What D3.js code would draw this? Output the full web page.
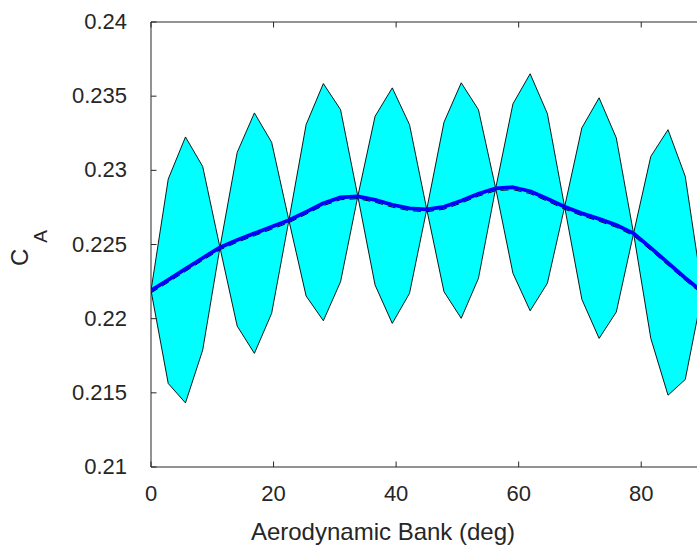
<!DOCTYPE html>
<html>
<head>
<meta charset="utf-8">
<script src="https://cdn.jsdelivr.net/npm/d3@7"></script>
<style>
body { margin: 0; background: #fff; }
svg { display: block; font-family: "Liberation Sans", Arial, sans-serif; }
</style>
</head>
<body>
<svg id="chart" width="697" height="548"></svg>
<script>
"use strict";

// bank angle samples (deg)
const bank = [0, 2.8125, 5.625, 8.4375, 11.25, 14.0625, 16.875, 19.6875, 22.5, 25.3125,
  28.125, 30.9375, 33.75, 36.5625, 39.375, 42.1875, 45, 47.8125, 50.625, 53.4375,
  56.25, 59.0625, 61.875, 64.6875, 67.5, 70.3125, 73.125, 75.9375, 78.75, 81.5625,
  84.375, 87.1875, 90];

// upper edge of the cyan band
const caUpper = [0.22190, 0.22941, 0.23225, 0.23026, 0.22480, 0.23121, 0.23387, 0.23189, 0.22663, 0.23308,
  0.23585, 0.23409, 0.22825, 0.23364, 0.23556, 0.23308, 0.22737, 0.23324, 0.23590, 0.23409,
  0.22879, 0.23448, 0.23651, 0.23382, 0.22754, 0.23286, 0.23489, 0.23218, 0.22575, 0.23094,
  0.23274, 0.22959, 0.22180];

// lower edge of the cyan band
const caLower = [0.22190, 0.21563, 0.21432, 0.21788, 0.22480, 0.21950, 0.21766, 0.22036, 0.22663, 0.22153,
  0.21986, 0.22249, 0.22825, 0.22227, 0.21968, 0.22171, 0.22737, 0.22182, 0.22002, 0.22272,
  0.22879, 0.22306, 0.22053, 0.22239, 0.22754, 0.22130, 0.21867, 0.22045, 0.22575, 0.21867,
  0.21484, 0.21590, 0.22180];

// mean (thick blue line)
const caMean = [0.22190, 0.22261, 0.22335, 0.22409, 0.22480, 0.22531, 0.22575, 0.22619, 0.22663, 0.22720,
  0.22778, 0.22818, 0.22825, 0.22801, 0.22768, 0.22744, 0.22737, 0.22754, 0.22795, 0.22842,
  0.22879, 0.22886, 0.22859, 0.22808, 0.22754, 0.22710, 0.22673, 0.22632, 0.22575, 0.22477,
  0.22376, 0.22274, 0.22180];

// nominal (black dashed line, sits just under the blue one)
const caNominal = [0.22174, 0.22245, 0.22319, 0.22393, 0.22464, 0.22515, 0.22559, 0.22603, 0.22647, 0.22704,
  0.22762, 0.22802, 0.22809, 0.22785, 0.22752, 0.22728, 0.22721, 0.22738, 0.22779, 0.22826,
  0.22863, 0.22870, 0.22843, 0.22792, 0.22738, 0.22694, 0.22657, 0.22616, 0.22559, 0.22461,
  0.22360, 0.22258, 0.22164];

const xTicks = [0, 20, 40, 60, 80];
const xTickLabels = ["0", "20", "40", "60", "80"];
const yTicks = [0.21, 0.215, 0.22, 0.225, 0.23, 0.235, 0.24];
const yTickLabels = ["0.21", "0.215", "0.22", "0.225", "0.23", "0.235", "0.24"];

const svg = d3.select("#chart");
const axisColor = "#262626";

const x = d3.scaleLinear().domain([0, 90]).range([151, 702.5]);
const y = d3.scaleLinear().domain([0.21, 0.24]).range([467, 22]);

svg.append("clipPath").attr("id", "plotClip")
  .append("rect")
  .attr("x", x.range()[0]).attr("y", y.range()[1])
  .attr("width", x.range()[1] - x.range()[0])
  .attr("height", y.range()[0] - y.range()[1]);

const plot = svg.append("g").attr("clip-path", "url(#plotClip)");

// band
const band = d3.area()
  .x((d, i) => x(bank[i]))
  .y0((d, i) => y(caLower[i]))
  .y1((d, i) => y(caUpper[i]));

plot.append("path")
  .datum(bank)
  .attr("d", band)
  .attr("fill", "#00ffff")
  .attr("stroke", "#000")
  .attr("stroke-width", 0.9)
  .attr("stroke-linejoin", "miter");

const line = vals => d3.line()
  .x((d, i) => x(bank[i]))
  .y((d, i) => y(vals[i]));

plot.append("path")
  .datum(bank)
  .attr("d", line(caNominal))
  .attr("fill", "none")
  .attr("stroke", "#000")
  .attr("stroke-width", 1)
  .attr("stroke-dasharray", "8,5");

plot.append("path")
  .datum(bank)
  .attr("d", line(caMean))
  .attr("fill", "none")
  .attr("stroke", "#0000ff")
  .attr("stroke-width", 3.8)
  .attr("stroke-linejoin", "round");

// axes (ticks point inward, like matlab)
const fmtX = d => xTickLabels[xTicks.indexOf(d)];
const fmtY = d => yTickLabels[yTicks.indexOf(d)];

const gx = svg.append("g")
  .attr("transform", `translate(0,${y.range()[0]})`)
  .call(d3.axisBottom(x).tickValues(xTicks).tickFormat(fmtX)
    .tickSizeInner(-5.5).tickSizeOuter(0).tickPadding(18).offset(0));

const gxTop = svg.append("g")
  .attr("transform", `translate(0,${y.range()[1]})`)
  .call(d3.axisTop(x).tickValues(xTicks).tickFormat("")
    .tickSizeInner(-5.5).tickSizeOuter(0).offset(0));

const gy = svg.append("g")
  .attr("transform", `translate(${x.range()[0]},0)`)
  .call(d3.axisLeft(y).tickValues(yTicks).tickFormat(fmtY)
    .tickSizeInner(-5.5).tickSizeOuter(0).tickPadding(24).offset(0));

[gx, gxTop, gy].forEach(g => {
  g.selectAll("path.domain").attr("stroke", axisColor);
  g.selectAll(".tick line").attr("stroke", axisColor);
  g.selectAll(".tick text")
    .attr("fill", axisColor)
    .style("font-size", "22px")
    .style("font-family", "'Liberation Sans', Arial, sans-serif");
});

// axis labels
svg.append("text")
  .attr("x", 383)
  .attr("y", 540)
  .attr("text-anchor", "middle")
  .attr("fill", axisColor)
  .style("font-size", "24px")
  .text("Aerodynamic Bank (deg)");

const yl = svg.append("text")
  .attr("transform", "translate(28,266) rotate(-90)")
  .attr("fill", axisColor)
  .style("font-size", "24px");
yl.append("tspan").text("C");
yl.append("tspan").attr("dx", 6).attr("dy", 19).style("font-size", "19px").text("A");
</script>
</body>
</html>
